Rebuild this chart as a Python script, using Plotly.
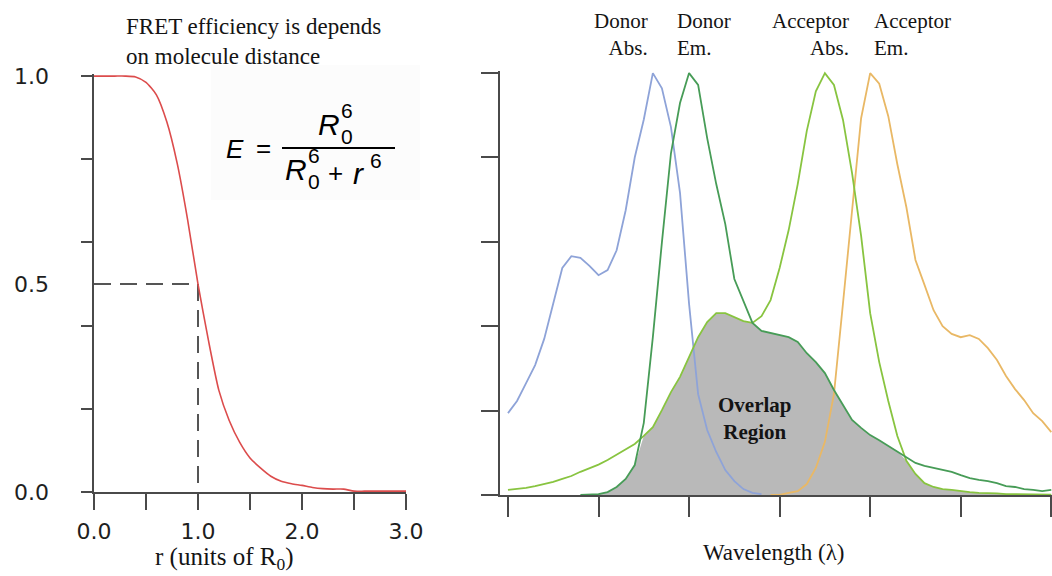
import plotly.graph_objects as go

# ---------------- data: left panel (FRET efficiency vs distance) ----------------
r_vals = [0.0, 0.1, 0.2, 0.3, 0.4, 0.5, 0.6, 0.7, 0.8, 0.9, 1.0,
          1.1, 1.2, 1.3, 1.4, 1.5, 1.6, 1.7, 1.8, 1.9, 2.0,
          2.1, 2.2, 2.3, 2.4, 2.5, 2.6, 2.7, 2.8, 2.9, 3.0]
efficiency = [1.0, 1.0, 1.0, 1.0, 0.998, 0.985, 0.955, 0.89, 0.79, 0.655, 0.5,
              0.365, 0.245, 0.172, 0.12, 0.082, 0.058, 0.038, 0.026, 0.02, 0.016,
              0.011, 0.008, 0.007, 0.007, 0.002, 0.002, 0.002, 0.002, 0.002, 0.002]
r_half = 1.0
e_half = 0.5
r_label_vals = [0.0, 1.0, 2.0, 3.0]
r_label_text = ["0.0", "1.0", "2.0", "3.0"]
r_tick_step = 0.5
e_tick_step = 0.2
e_label_vals = [0.0, 0.5, 1.0]
e_label_text = ["0.0", "0.5", "1.0"]

# ---------------- data: right panel (spectra) ----------------
wavelength = list(range(400, 705, 5))   # 400 ... 700 nm

donor_abs_vals = [0.194, 0.223, 0.265, 0.308, 0.370, 0.455, 0.538, 0.566, 0.562,
                  0.543, 0.521, 0.533, 0.580, 0.675, 0.800, 0.890, 1.0, 0.964,
                  0.872, 0.716, 0.453, 0.239, 0.154, 0.102, 0.059, 0.033, 0.014,
                  0.005, 0.002]                      # 400 ... 540
donor_em_vals = [0.0, 0.001, 0.002, 0.007, 0.019, 0.038, 0.071, 0.171, 0.374,
                 0.599, 0.81, 0.929, 1.0, 0.972, 0.846, 0.737, 0.642, 0.512,
                 0.462, 0.408, 0.389, 0.384, 0.379, 0.374, 0.363, 0.336, 0.315,
                 0.289, 0.249, 0.213, 0.178, 0.159, 0.142, 0.130, 0.116, 0.104,
                 0.090, 0.076, 0.069, 0.064, 0.059, 0.055, 0.047, 0.040, 0.036,
                 0.033, 0.028, 0.021, 0.019, 0.014, 0.012, 0.009, 0.012]   # 440 ... 700
acceptor_abs_vals = [0.012, 0.014, 0.017, 0.021, 0.026, 0.031, 0.038, 0.045, 0.055,
                     0.063, 0.072, 0.083, 0.095, 0.107, 0.121, 0.140, 0.161, 0.201,
                     0.244, 0.280, 0.329, 0.374, 0.410, 0.431, 0.431, 0.422, 0.412,
                     0.408, 0.424, 0.462, 0.538, 0.628, 0.737, 0.863, 0.957, 1.0,
                     0.972, 0.889, 0.763, 0.614, 0.431, 0.315, 0.223, 0.140, 0.081,
                     0.050, 0.028, 0.019, 0.014, 0.012, 0.009, 0.007, 0.005, 0.005,
                     0.004, 0.002, 0.002, 0.002, 0.001, 0.001, 0.001]     # 400 ... 700
acceptor_em_vals = [0.0, 0.0, 0.005, 0.009, 0.026, 0.064, 0.126, 0.239, 0.455,
                    0.675, 0.893, 1.0, 0.975, 0.898, 0.784, 0.682, 0.557, 0.498,
                    0.438, 0.40, 0.382, 0.374, 0.379, 0.370, 0.348, 0.320, 0.282,
                    0.251, 0.225, 0.194, 0.175, 0.149]                    # 545 ... 700

wl_ticks = [400, 450, 500, 550, 600, 650, 700]
int_ticks = [0.0, 0.2, 0.4, 0.6, 0.8, 1.0]

wl_donor_abs = wavelength[:len(donor_abs_vals)]
wl_donor_em = wavelength[len(wavelength) - len(donor_em_vals):]
wl_acceptor_abs = wavelength[len(wavelength) - len(acceptor_abs_vals):]
wl_acceptor_em = wavelength[len(wavelength) - len(acceptor_em_vals):]
assert len(acceptor_abs_vals) == len(wavelength)
assert wl_donor_em[0] == 440 and wl_acceptor_em[0] == 545

# overlap = min(donor emission, acceptor absorption) on the shared grid
abs_lookup = dict(zip(wl_acceptor_abs, acceptor_abs_vals))
overlap_vals = [min(v, abs_lookup[w]) for w, v in zip(wl_donor_em, donor_em_vals)]

# ---------------- figure ----------------
W, H = 1052, 576
def PX(x):
    return x / W
def PY(y):
    return 1 - y / H

SERIF = "Liberation Serif"
SANS = "DejaVu Sans"
AXC = "#4a4a4a"

fig = go.Figure()

# left panel
fig.add_trace(go.Scatter(x=[0, r_half, r_half], y=[e_half, e_half, 0], mode="lines",
                         line=dict(color="#555555", width=2, dash="17px,9px"),
                         xaxis="x", yaxis="y", hoverinfo="skip"))
fig.add_trace(go.Scatter(x=r_vals, y=efficiency, mode="lines",
                         line=dict(color="#dc4c4c", width=1.6, shape="spline", smoothing=0.6),
                         xaxis="x", yaxis="y"))
fig.add_trace(go.Scatter(x=[None], y=[None], xaxis="x", yaxis="y3", hoverinfo="skip"))

# right panel
fig.add_trace(go.Scatter(x=wl_donor_em, y=overlap_vals, mode="lines", fill="tozeroy",
                         fillcolor="#b9b9b9", line=dict(width=0, color="#b9b9b9"),
                         xaxis="x2", yaxis="y2"))
fig.add_trace(go.Scatter(x=wl_donor_abs, y=donor_abs_vals, mode="lines",
                         line=dict(color="#8ea3d8", width=1.8), xaxis="x2", yaxis="y2"))
fig.add_trace(go.Scatter(x=wl_acceptor_em, y=acceptor_em_vals, mode="lines",
                         line=dict(color="#e9b865", width=1.8), xaxis="x2", yaxis="y2"))
fig.add_trace(go.Scatter(x=wl_acceptor_abs, y=acceptor_abs_vals, mode="lines",
                         line=dict(color="#88c440", width=1.8), xaxis="x2", yaxis="y2"))
fig.add_trace(go.Scatter(x=wl_donor_em, y=donor_em_vals, mode="lines",
                         line=dict(color="#479c57", width=1.8), xaxis="x2", yaxis="y2"))

axis_common = dict(showgrid=False, zeroline=False, showline=True, linecolor=AXC,
                   linewidth=2, ticks="outside", tickcolor=AXC, tickwidth=2,
                   automargin=False)

fig.update_layout(
    template="none",
    width=W, height=H,
    margin=dict(l=0, r=0, t=0, b=0),
    paper_bgcolor="white", plot_bgcolor="rgba(0,0,0,0)",
    showlegend=False,
    xaxis=dict(domain=[PX(94), PX(406)], range=[0, 3.0], anchor="y",
               tickvals=r_label_vals, ticktext=r_label_text, ticklen=16,
               minor=dict(dtick=r_tick_step, tick0=0, ticks="outside", ticklen=16,
                          tickwidth=2, tickcolor=AXC, showgrid=False),
               tickfont=dict(family=SANS, size=22, color="#1e1e1e"),
               ticklabelstandoff=3, **axis_common),
    yaxis=dict(domain=[1 - 492 / H, 1 - 74 / H], range=[0, 1.005], anchor="x",
               dtick=e_tick_step, tick0=0, showticklabels=False, ticklen=11, **axis_common),
    yaxis3=dict(overlaying="y", anchor="x", side="left", range=[0, 1.005],
                tickvals=e_label_vals, ticktext=e_label_text, ticks="",
                showline=False, showgrid=False, zeroline=False, automargin=False,
                ticklabelstandoff=44,
                tickfont=dict(family=SANS, size=22, color="#1e1e1e")),
    xaxis2=dict(domain=[PX(500), 1.0], range=[395.6, 700.4], anchor="y2",
                tickvals=wl_ticks, showticklabels=False, ticklen=20, **axis_common),
    yaxis2=dict(domain=[1 - 495 / H, 1 - 71 / H], range=[0, 1.005], anchor="x2",
                tickvals=int_ticks, showticklabels=False, ticklen=17, **axis_common),
)

# faint box behind the equation
fig.add_shape(type="rect", xref="paper", yref="paper", x0=PX(211), x1=PX(420),
              y0=PY(200), y1=PY(65), fillcolor="#fcfcfc", line=dict(width=0), layer="below")
# fraction bar
fig.add_shape(type="line", xref="paper", yref="paper", x0=PX(282), x1=PX(395),
              y0=PY(148), y1=PY(148), line=dict(color="black", width=2))

def note(text, x, y, size, family=SERIF, xanchor="center", align="center", color="#141414"):
    fig.add_annotation(text=text, x=PX(x), y=PY(y), xref="paper", yref="paper",
                       xanchor=xanchor, yanchor="middle", align=align, showarrow=False,
                       font=dict(family=family, size=size, color=color))

EQ = "Liberation Sans"
note("<i>E</i>", 235, 149, 26, EQ, color="black")
note("=", 263, 148, 26, EQ, color="black")
note("<i>R</i>", 329, 125, 30, EQ, color="black")
note("6", 347, 110, 21, EQ, color="black")
note("0", 347, 136, 21, EQ, color="black")
note("<i>R</i>", 296, 170, 30, EQ, color="black")
note("6", 314, 155, 21, EQ, color="black")
note("0", 314, 181, 21, EQ, color="black")
note("+", 335, 173, 26, EQ, color="black")
note("<i>r</i>", 358, 173, 30, EQ, color="black")
note("6", 376, 160, 21, EQ, color="black")

note("FRET efficiency is depends<br>on molecule distance", 124, 41, 23, xanchor="left", align="left")
note("r (units of R<sub>0</sub>)", 224, 558, 25)
note("Wavelength (λ)", 774, 552, 23)
note("Donor<br>Abs.", 650, 35, 21, xanchor="right", align="right")
note("Donor<br>Em.", 675, 35, 21, xanchor="left", align="left")
note("Acceptor<br>Abs.", 851, 35, 21, xanchor="right", align="right")
note("Acceptor<br>Em.", 872, 35, 21, xanchor="left", align="left")
note("<b>Overlap<br>Region</b>", 755, 418, 21)

fig.write_html("out.html")
